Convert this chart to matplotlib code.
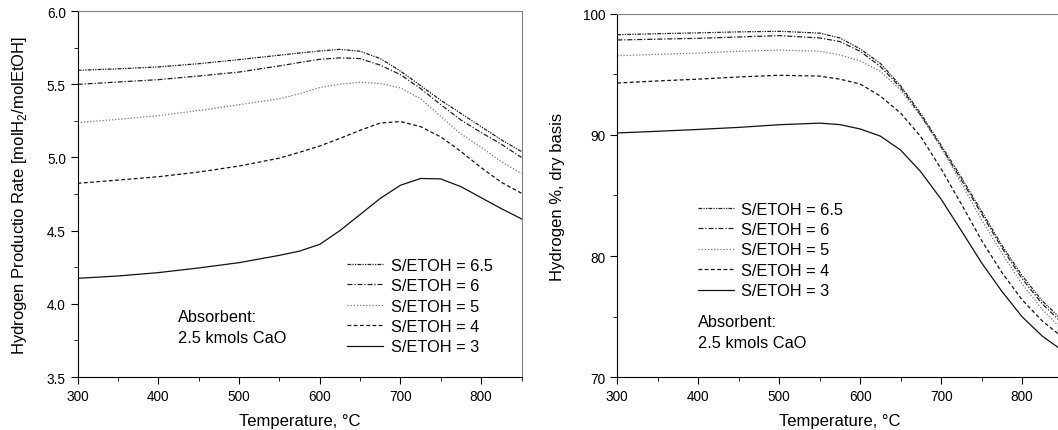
import numpy as np
import matplotlib
matplotlib.use('Agg')
import matplotlib.pyplot as plt
from matplotlib.ticker import MultipleLocator, FormatStrFormatter

plt.rcParams['font.family'] = ['Liberation Sans', 'DejaVu Sans']
plt.rcParams['mathtext.fontset'] = 'custom'
plt.rcParams['mathtext.rm'] = 'Liberation Sans'

# 温度 [°C]
temp = [300, 350, 400, 450, 500, 550, 575, 600, 625, 650, 675, 700,
        725, 750, 775, 800, 825, 850]

series = ['S/ETOH = 6.5', 'S/ETOH = 6', 'S/ETOH = 5', 'S/ETOH = 4', 'S/ETOH = 3']

# 左: 水素生成量 [molH2/molEtOH]
rate_65 = [5.595, 5.605, 5.618, 5.64, 5.668, 5.698, 5.713, 5.727, 5.738, 5.725,
           5.675, 5.59, 5.49, 5.39, 5.30, 5.21, 5.12, 5.04]
rate_6 = [5.499, 5.515, 5.531, 5.556, 5.583, 5.625, 5.648, 5.67, 5.68, 5.675,
          5.63, 5.565, 5.47, 5.36, 5.255, 5.17, 5.09, 5.00]
rate_5 = [5.238, 5.26, 5.285, 5.32, 5.36, 5.40, 5.435, 5.477, 5.50, 5.513,
          5.505, 5.475, 5.40, 5.28, 5.16, 5.07, 4.97, 4.89]
rate_4 = [4.823, 4.845, 4.868, 4.90, 4.941, 4.995, 5.035, 5.078, 5.13, 5.185,
          5.235, 5.245, 5.21, 5.14, 5.04, 4.93, 4.83, 4.755]
rate_3 = [4.174, 4.19, 4.213, 4.245, 4.281, 4.331, 4.36, 4.406, 4.50, 4.61,
          4.72, 4.81, 4.856, 4.853, 4.80, 4.725, 4.65, 4.58]

# 右: 水素濃度 [%, dry basis]
h2_65 = [98.27, 98.35, 98.42, 98.5, 98.55, 98.4, 98.0, 97.1, 95.9, 94.05,
         91.75, 89.15, 86.5, 83.7, 80.9, 78.4, 76.3, 74.7]
h2_6 = [97.83, 97.9, 97.97, 98.08, 98.19, 98.0, 97.7, 96.9, 95.65, 93.9,
        91.6, 89.0, 86.3, 83.5, 80.7, 78.15, 76.05, 74.45]
h2_5 = [96.53, 96.65, 96.75, 96.9, 97.0, 96.9, 96.6, 96.1, 95.25, 93.7,
        91.55, 89.0, 86.0, 83.0, 80.25, 77.7, 75.6, 73.9]
h2_4 = [94.28, 94.45, 94.6, 94.78, 94.92, 94.85, 94.6, 94.2, 93.2, 91.8,
        89.85, 87.2, 84.3, 81.3, 78.65, 76.4, 74.65, 73.3]
h2_3 = [90.16, 90.3, 90.45, 90.62, 90.84, 90.97, 90.85, 90.49, 89.9, 88.75,
        86.95, 84.7, 82.1, 79.45, 77.1, 75.0, 73.4, 72.2]

styles = [dict(color='#222222', ls=(0, (3, 1, 1, 1, 1, 1))),
          dict(color='#222222', ls=(0, (4, 1.5, 1, 1.5))),
          dict(color='#777777', ls=(0, (1, 1.5))),
          dict(color='#111111', ls=(0, (3, 2))),
          dict(color='#111111', ls='-')]

fs_lab = 12
fs_leg = 11.8
fs_tick = 9.8

fig = plt.figure(figsize=(10.58, 4.31), dpi=100)
ax1 = fig.add_axes([77.7 / 1058, 1 - 378 / 431, 443.8 / 1058, 366 / 431])
ax2 = fig.add_axes([617.3 / 1058, 1 - 378.3 / 431, 445.2 / 1058, 363.6 / 431])


def style_axes(ax):
    ax.spines['top'].set_color('#808080')
    ax.spines['right'].set_color('#808080')
    ax.xaxis.set_major_locator(MultipleLocator(100))
    ax.xaxis.set_minor_locator(MultipleLocator(50))
    ax.tick_params(which='both', direction='out', labelsize=fs_tick, top=False, right=False)
    ax.tick_params(which='major', length=5)
    ax.tick_params(which='minor', length=3)
    ax.set_xlim(300, 850)
    ax.set_xlabel('Temperature, °C', fontsize=fs_lab, labelpad=7)


# 左図
for vals, lab, st in zip([rate_65, rate_6, rate_5, rate_4, rate_3], series, styles):
    ax1.plot(temp, vals, lw=0.9, label=lab, **st)
style_axes(ax1)
ax1.set_ylim(3.5, 6.0)
ax1.yaxis.set_major_locator(MultipleLocator(0.5))
ax1.yaxis.set_minor_locator(MultipleLocator(0.25))
ax1.yaxis.set_major_formatter(FormatStrFormatter('%.1f'))
ax1.set_ylabel('Hydrogen Productio Rate [molH$_2$/molEtOH]', fontsize=fs_lab, labelpad=13)
ax1.legend(loc='upper left', bbox_to_anchor=(0.607, 0.326), frameon=False,
           fontsize=fs_leg, handlelength=2.2, handletextpad=0.45,
           labelspacing=0.33, borderpad=0, borderaxespad=0)
ax1.text(178, 431 - 328.5, 'Absorbent:\n2.5 kmols CaO', transform=None,
         fontsize=fs_leg, va='center', ha='left', linespacing=1.5)

# 右図
for vals, lab, st in zip([h2_65, h2_6, h2_5, h2_4, h2_3], series, styles):
    ax2.plot(temp, vals, lw=0.9, label=lab, **st)
style_axes(ax2)
ax2.set_ylim(70, 100)
ax2.yaxis.set_major_locator(MultipleLocator(10))
ax2.yaxis.set_minor_locator(MultipleLocator(5))
ax2.set_ylabel('Hydrogen %, dry basis', fontsize=fs_lab, labelpad=13)
ax2.legend(loc='upper left', bbox_to_anchor=(0.181, 0.483), frameon=False,
           fontsize=fs_leg, handlelength=2.2, handletextpad=0.45,
           labelspacing=0.33, borderpad=0, borderaxespad=0)
ax2.text(698, 431 - 333, 'Absorbent:\n2.5 kmols CaO', transform=None,
         fontsize=fs_leg, va='center', ha='left', linespacing=1.5)

fig.savefig('out.png', dpi=100)
